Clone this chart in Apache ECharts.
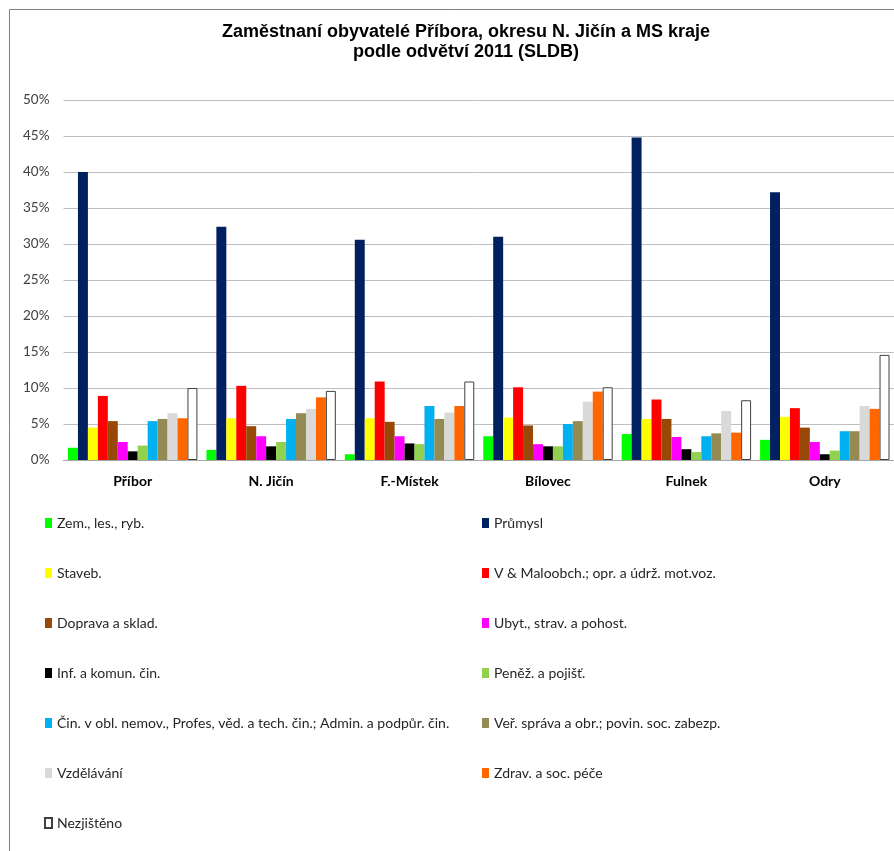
<!DOCTYPE html>
<html>
<head>
<meta charset="utf-8">
<script src="https://cdn.jsdelivr.net/npm/echarts@6/dist/echarts.min.js"></script>
<style>html,body{margin:0;padding:0;background:#fff;}#c{width:894px;height:851px;}</style>
</head>
<body>
<div id="c"></div>
<script>
const categories = ['Příbor', 'N. Jičín', 'F.-Místek', 'Bílovec', 'Fulnek', 'Odry'];
const seriesNames = [
  'Zem., les., ryb.', 'Průmysl', 'Staveb.', 'V & Maloobch.; opr. a údrž. mot.voz.',
  'Doprava a sklad.', 'Ubyt., strav. a pohost.', 'Inf. a komun. čin.', 'Peněž. a pojišť.',
  'Čin. v obl. nemov., Profes, věd. a tech. čin.; Admin. a podpůr. čin.',
  'Veř. správa a obr.; povin. soc. zabezp.', 'Vzdělávání', 'Zdrav. a soc. péče', 'Nezjištěno'
];
const zem       = [1.7, 1.4, 0.8, 3.3, 3.6, 2.8];
const prumysl   = [40.0, 32.4, 30.6, 31.0, 44.8, 37.2];
const staveb    = [4.5, 5.8, 5.8, 5.9, 5.7, 6.0];
const obchod    = [8.9, 10.3, 10.9, 10.1, 8.4, 7.2];
const doprava   = [5.4, 4.7, 5.3, 4.8, 5.7, 4.5];
const ubyt      = [2.5, 3.3, 3.3, 2.2, 3.2, 2.5];
const inf       = [1.2, 1.9, 2.3, 1.9, 1.5, 0.8];
const penez     = [2.0, 2.5, 2.2, 1.9, 1.1, 1.3];
const cinnost   = [5.4, 5.7, 7.5, 5.0, 3.3, 4.0];
const sprava    = [5.7, 6.5, 5.7, 5.4, 3.7, 4.0];
const vzdel     = [6.5, 7.1, 6.6, 8.1, 6.8, 7.5];
const zdrav     = [5.8, 8.7, 7.5, 9.5, 3.8, 7.1];
const nezjist   = [10.0, 9.6, 10.9, 10.1, 8.3, 14.6];
const yTicks = [0, 5, 10, 15, 20, 25, 30, 35, 40, 45, 50];

const values = [zem, prumysl, staveb, obchod, doprava, ubyt, inf, penez, cinnost, sprava, vzdel, zdrav, nezjist];
const colors = ['#00FF00', '#002060', '#FFFF00', '#FF0000', '#984807', '#FF00FF', '#000000',
  '#92D050', '#00B0F0', '#948A54', '#D9D9D9', '#FF6600', '#FFFFFF'];

const chart = echarts.init(document.getElementById('c'), null, {renderer: 'canvas'});

const series = values.map((v, i) => ({
  name: seriesNames[i],
  type: 'bar',
  data: v,
  barGap: '0%',
  barCategoryGap: '6.5%',
  itemStyle: i === 12 ? {color: '#FFFFFF', borderColor: '#404040', borderWidth: 1} : {color: colors[i]}
}));

const legendText = {fontFamily: 'Lato', fontSize: 14, color: '#262626', lineHeight: 14};

chart.setOption({
  animation: false,
  backgroundColor: '#fff',
  title: {
    text: 'Zaměstnaní obyvatelé Příbora, okresu N. Jičín a MS kraje\npodle odvětví 2011 (SLDB)',
    left: 461, top: 17, textAlign: 'center',
    textStyle: {fontFamily: 'Liberation Sans', fontWeight: 'bold', fontSize: 18, lineHeight: 20, color: '#000'}
  },
  legend: [
    {
      orient: 'vertical', left: 39, top: 511, itemWidth: 7, itemHeight: 10, itemGap: 36,
      data: seriesNames.filter((_, i) => i % 2 === 0), textStyle: legendText,
      icon: 'rect', selectedMode: false
    },
    {
      orient: 'vertical', left: 477, top: 511, itemWidth: 7, itemHeight: 10, itemGap: 36,
      data: seriesNames.filter((_, i) => i % 2 === 1), textStyle: legendText,
      icon: 'rect', selectedMode: false
    }
  ],
  grid: {left: 63.5, right: -2.5, top: 100, bottom: 391, containLabel: false},
  xAxis: {
    type: 'category', data: categories,
    axisLine: {lineStyle: {color: '#A6A6A6'}},
    axisTick: {show: false},
    axisLabel: {fontFamily: 'Lato', fontWeight: 'bold', fontSize: 14, color: '#000', margin: 14}
  },
  yAxis: {
    type: 'value', min: yTicks[0], max: yTicks[yTicks.length - 1], interval: 5,
    axisLine: {show: false}, axisTick: {show: false},
    splitLine: {lineStyle: {color: '#BFBFBF', width: 1}},
    axisLabel: {fontFamily: 'Lato', fontSize: 13.5, color: '#404040', margin: 14, formatter: '{value}%'}
  },
  graphic: [
    {type: 'polyline', shape: {points: [[9.5, 851], [9.5, 9.5], [894, 9.5]]},
     style: {stroke: '#808080', lineWidth: 1, fill: null}, silent: true}
  ],
  series: series
});
</script>
</body>
</html>
